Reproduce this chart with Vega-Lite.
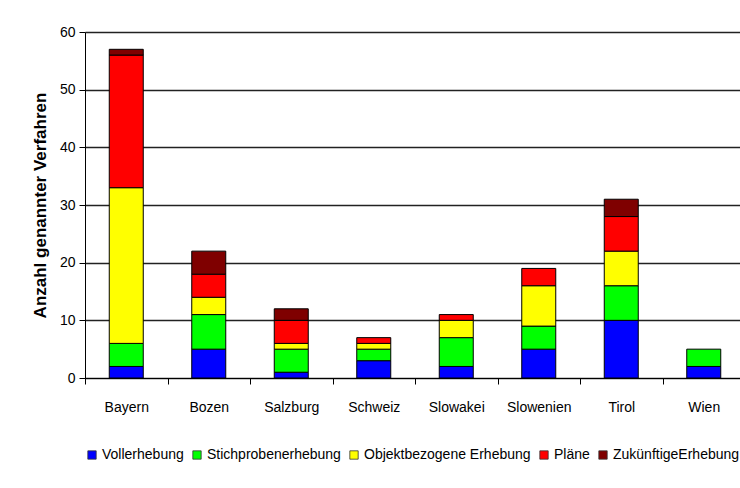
{
  "$schema": "https://vega.github.io/schema/vega-lite/v6.json",
  "autosize": "none",
  "width": 660,
  "height": 346,
  "padding": {"left": 85, "top": 32, "right": 0, "bottom": 110},
  "background": "white",
  "data": {"values": [
    {"land": "Bayern", "art": "Vollerhebung", "n": 2},
    {"land": "Bayern", "art": "Stichprobenerhebung", "n": 4},
    {"land": "Bayern", "art": "Objektbezogene Erhebung", "n": 27},
    {"land": "Bayern", "art": "Pläne", "n": 23},
    {"land": "Bayern", "art": "ZukünftigeErhebung", "n": 1},
    {"land": "Bozen", "art": "Vollerhebung", "n": 5},
    {"land": "Bozen", "art": "Stichprobenerhebung", "n": 6},
    {"land": "Bozen", "art": "Objektbezogene Erhebung", "n": 3},
    {"land": "Bozen", "art": "Pläne", "n": 4},
    {"land": "Bozen", "art": "ZukünftigeErhebung", "n": 4},
    {"land": "Salzburg", "art": "Vollerhebung", "n": 1},
    {"land": "Salzburg", "art": "Stichprobenerhebung", "n": 4},
    {"land": "Salzburg", "art": "Objektbezogene Erhebung", "n": 1},
    {"land": "Salzburg", "art": "Pläne", "n": 4},
    {"land": "Salzburg", "art": "ZukünftigeErhebung", "n": 2},
    {"land": "Schweiz", "art": "Vollerhebung", "n": 3},
    {"land": "Schweiz", "art": "Stichprobenerhebung", "n": 2},
    {"land": "Schweiz", "art": "Objektbezogene Erhebung", "n": 1},
    {"land": "Schweiz", "art": "Pläne", "n": 1},
    {"land": "Slowakei", "art": "Vollerhebung", "n": 2},
    {"land": "Slowakei", "art": "Stichprobenerhebung", "n": 5},
    {"land": "Slowakei", "art": "Objektbezogene Erhebung", "n": 3},
    {"land": "Slowakei", "art": "Pläne", "n": 1},
    {"land": "Slowenien", "art": "Vollerhebung", "n": 5},
    {"land": "Slowenien", "art": "Stichprobenerhebung", "n": 4},
    {"land": "Slowenien", "art": "Objektbezogene Erhebung", "n": 7},
    {"land": "Slowenien", "art": "Pläne", "n": 3},
    {"land": "Tirol", "art": "Vollerhebung", "n": 10},
    {"land": "Tirol", "art": "Stichprobenerhebung", "n": 6},
    {"land": "Tirol", "art": "Objektbezogene Erhebung", "n": 6},
    {"land": "Tirol", "art": "Pläne", "n": 6},
    {"land": "Tirol", "art": "ZukünftigeErhebung", "n": 3},
    {"land": "Wien", "art": "Vollerhebung", "n": 2},
    {"land": "Wien", "art": "Stichprobenerhebung", "n": 3}
  ]},
  "transform": [
    {"calculate": "indexof(['Vollerhebung', 'Stichprobenerhebung', 'Objektbezogene Erhebung', 'Pläne', 'ZukünftigeErhebung'], datum.art)", "as": "stackOrder"}
  ],
  "mark": {"type": "bar", "size": 34, "stroke": "#000000", "strokeWidth": 1},
  "encoding": {
    "x": {
      "field": "land", "type": "nominal", "sort": null,
      "scale": {"paddingInner": 0, "paddingOuter": 0},
      "axis": {
        "title": null, "labelAngle": 0, "labelFont": "Liberation Sans", "labelFontSize": 14,
        "labelColor": "#000000", "labelPadding": 16, "tickBand": "extent", "tickSize": 6,
        "tickColor": "#000000", "domainColor": "#000000", "grid": false
      }
    },
    "y": {
      "aggregate": "sum", "field": "n", "type": "quantitative", "stack": "zero",
      "scale": {"domain": [0, 60]},
      "axis": {
        "title": "Anzahl genannter Verfahren", "titleFont": "Liberation Sans", "titleFontSize": 17,
        "titleFontWeight": "bold", "titleColor": "#000000", "titlePadding": 10,
        "values": [0, 10, 20, 30, 40, 50, 60],
        "labelFont": "Liberation Sans", "labelFontSize": 14, "labelColor": "#000000",
        "tickSize": 6, "tickColor": "#000000", "domainColor": "#000000",
        "grid": true, "gridColor": "#222222", "gridWidth": 1.5, "labelPadding": 4
      }
    },
    "color": {
      "field": "art", "type": "nominal",
      "sort": ["Vollerhebung", "Stichprobenerhebung", "Objektbezogene Erhebung", "Pläne", "ZukünftigeErhebung"],
      "scale": {
        "domain": ["Vollerhebung", "Stichprobenerhebung", "Objektbezogene Erhebung", "Pläne", "ZukünftigeErhebung"],
        "range": ["#0000ff", "#00ff00", "#ffff00", "#ff0000", "#7f0000"]
      },
      "legend": {
        "title": null, "orient": "bottom", "direction": "horizontal", "offset": 34,
        "symbolType": "square", "symbolSize": 70, "symbolStrokeColor": "#333333", "symbolStrokeWidth": 0.8,
        "labelFont": "Liberation Sans", "labelFontSize": 14, "labelColor": "#000000", "labelLimit": 400,
        "columnPadding": 6, "symbolOffset": 0, "labelOffset": 3
      }
    },
    "order": {"field": "stackOrder", "type": "quantitative", "sort": "ascending"}
  },
  "config": {"view": {"stroke": null}}
}
